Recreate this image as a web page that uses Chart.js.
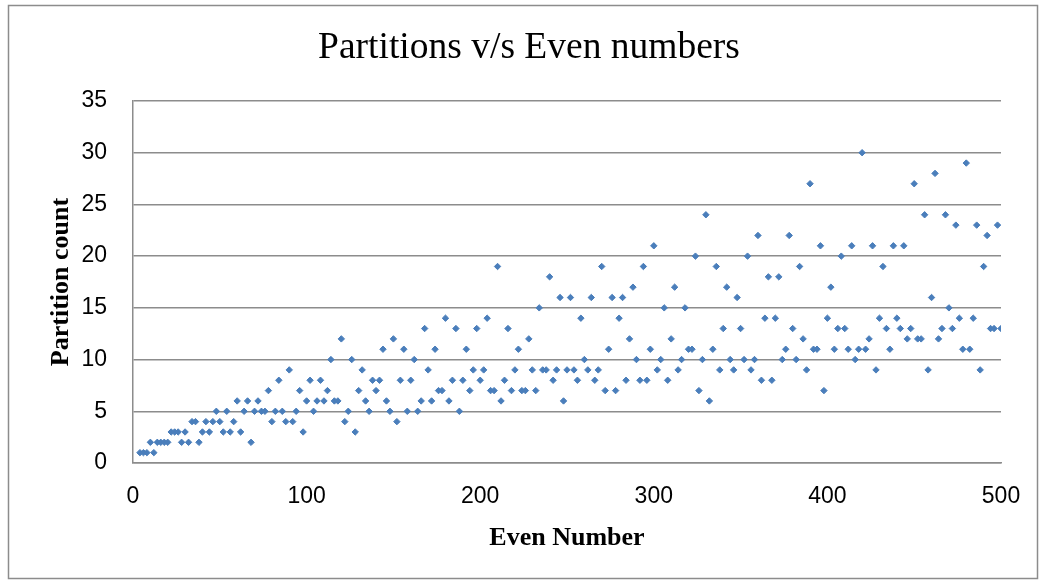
<!DOCTYPE html>
<html>
<head>
<meta charset="utf-8">
<script src="https://cdn.jsdelivr.net/npm/chart.js@4"></script>
<style>
  html, body { margin: 0; padding: 0; background: #ffffff; }
  canvas { display: block; }
</style>
</head>
<body>
<canvas id="chart" width="1046" height="584"></canvas>
<script>
// Even numbers and the count of their prime partitions (Goldbach pairs)
const evenNumbers = [
  4, 6, 8, 10, 12, 14, 16, 18, 20, 22,
  24, 26, 28, 30, 32, 34, 36, 38, 40, 42,
  44, 46, 48, 50, 52, 54, 56, 58, 60, 62,
  64, 66, 68, 70, 72, 74, 76, 78, 80, 82,
  84, 86, 88, 90, 92, 94, 96, 98, 100, 102,
  104, 106, 108, 110, 112, 114, 116, 118, 120, 122,
  124, 126, 128, 130, 132, 134, 136, 138, 140, 142,
  144, 146, 148, 150, 152, 154, 156, 158, 160, 162,
  164, 166, 168, 170, 172, 174, 176, 178, 180, 182,
  184, 186, 188, 190, 192, 194, 196, 198, 200, 202,
  204, 206, 208, 210, 212, 214, 216, 218, 220, 222,
  224, 226, 228, 230, 232, 234, 236, 238, 240, 242,
  244, 246, 248, 250, 252, 254, 256, 258, 260, 262,
  264, 266, 268, 270, 272, 274, 276, 278, 280, 282,
  284, 286, 288, 290, 292, 294, 296, 298, 300, 302,
  304, 306, 308, 310, 312, 314, 316, 318, 320, 322,
  324, 326, 328, 330, 332, 334, 336, 338, 340, 342,
  344, 346, 348, 350, 352, 354, 356, 358, 360, 362,
  364, 366, 368, 370, 372, 374, 376, 378, 380, 382,
  384, 386, 388, 390, 392, 394, 396, 398, 400, 402,
  404, 406, 408, 410, 412, 414, 416, 418, 420, 422,
  424, 426, 428, 430, 432, 434, 436, 438, 440, 442,
  444, 446, 448, 450, 452, 454, 456, 458, 460, 462,
  464, 466, 468, 470, 472, 474, 476, 478, 480, 482,
  484, 486, 488, 490, 492, 494, 496, 498, 500
];

const partitionCounts = [
  1, 1, 1, 2, 1, 2, 2, 2, 2, 3,
  3, 3, 2, 3, 2, 4, 4, 2, 3, 4,
  3, 4, 5, 4, 3, 5, 3, 4, 6, 3,
  5, 6, 2, 5, 6, 5, 5, 7, 4, 5,
  8, 5, 4, 9, 4, 5, 7, 3, 6, 8,
  5, 6, 8, 6, 7, 10, 6, 6, 12, 4,
  5, 10, 3, 7, 9, 6, 5, 8, 7, 8,
  11, 6, 5, 12, 4, 8, 11, 5, 8, 10,
  5, 6, 13, 9, 6, 11, 7, 7, 14, 6,
  8, 13, 5, 8, 11, 7, 9, 13, 8, 9,
  14, 7, 7, 19, 6, 8, 13, 7, 9, 11,
  7, 7, 12, 9, 7, 15, 9, 9, 18, 8,
  9, 16, 6, 9, 16, 9, 8, 14, 10, 9,
  16, 8, 9, 19, 7, 11, 16, 7, 14, 16,
  8, 12, 17, 10, 8, 19, 8, 11, 21, 9,
  10, 15, 8, 12, 17, 9, 10, 15, 11, 11,
  20, 7, 10, 24, 6, 11, 19, 9, 13, 17,
  10, 9, 16, 13, 10, 20, 9, 10, 22, 8,
  14, 18, 8, 14, 18, 10, 11, 22, 13, 10,
  19, 12, 9, 27, 11, 11, 21, 7, 14, 17,
  11, 13, 20, 13, 11, 21, 10, 11, 30, 11,
  12, 21, 9, 14, 19, 13, 11, 21, 14, 13,
  21, 12, 13, 27, 12, 12, 24, 9, 16, 28,
  12, 13, 24, 15, 13, 23, 14, 11, 29, 11,
  14, 23, 9, 19, 22, 13, 13, 23, 13
];

const xTickStep = 100;
const yTickStep = 5;

const points = evenNumbers.map((n, i) => ({ x: n, y: partitionCounts[i] }));

// Outer frame around the whole chart
const frame = {
  id: 'frame',
  beforeDraw(chart) {
    const ctx = chart.ctx;
    ctx.save();
    ctx.fillStyle = '#ffffff';
    ctx.fillRect(0, 0, chart.width, chart.height);
    ctx.strokeStyle = '#8c8c8c';
    ctx.lineWidth = 1.5;
    ctx.strokeRect(8.5, 5.5, 1029, 573);
    ctx.restore();
  }
};

new Chart(document.getElementById('chart'), {
  type: 'scatter',
  data: {
    datasets: [{
      label: 'Partition count',
      data: points,
      pointStyle: 'rectRot',
      pointRadius: 3.2,
      pointHoverRadius: 3.2,
      backgroundColor: '#4A7EBB',
      borderColor: '#4A7EBB',
      borderWidth: 1
    }]
  },
  options: {
    responsive: false,
    animation: false,
    devicePixelRatio: 1,
    layout: { padding: { left: 57, right: 45, top: 0, bottom: 0 } },
    plugins: {
      legend: { display: false },
      tooltip: { enabled: false },
      title: {
        display: true,
        text: 'Partitions v/s Even numbers',
        color: '#000000',
        font: { family: '"Liberation Serif", "Times New Roman", serif', size: 37.5, weight: 'normal' },
        padding: { top: 26, bottom: 30 }
      }
    },
    scales: {
      x: {
        type: 'linear',
        min: 0,
        max: 500,
        afterFit(scale) { scale.height = 121; },
        ticks: {
          stepSize: xTickStep,
          color: '#000000',
          padding: 20,
          maxRotation: 0,
          font: { family: '"Liberation Sans", Arial, sans-serif', size: 23 }
        },
        grid: { display: false, drawTicks: false },
        border: { display: true, color: '#8c8c8c', width: 1.5 },
        title: {
          display: true,
          text: 'Even Number',
          color: '#000000',
          font: { family: '"Liberation Serif", "Times New Roman", serif', size: 26, weight: 'bold' },
          padding: { top: 0, bottom: 30 }
        }
      },
      y: {
        type: 'linear',
        min: 0,
        max: 35,
        afterFit(scale) { scale.width = 76; },
        ticks: {
          stepSize: yTickStep,
          color: '#000000',
          padding: 26,
          font: { family: '"Liberation Sans", Arial, sans-serif', size: 23 }
        },
        grid: { color: '#8c8c8c', lineWidth: 1.5, drawTicks: false },
        border: { display: true, color: '#8c8c8c', width: 1.5 },
        title: {
          display: true,
          text: 'Partition count',
          color: '#000000',
          font: { family: '"Liberation Serif", "Times New Roman", serif', size: 26, weight: 'bold' },
          padding: { top: -11, bottom: 0 }
        }
      }
    }
  },
  plugins: [frame]
});
</script>
</body>
</html>
